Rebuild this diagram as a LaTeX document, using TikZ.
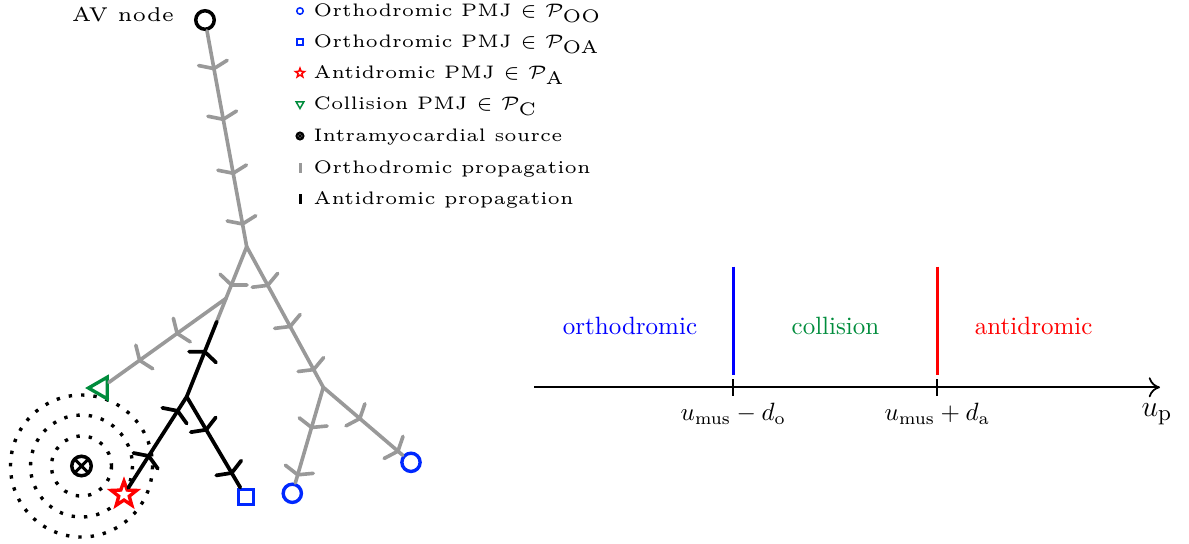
\documentclass[tikz,border=0pt]{standalone}
\usetikzlibrary{shapes.geometric,decorations.markings,arrows.meta}
\definecolor{pgray}{RGB}{153,153,153}
\definecolor{pgreen}{RGB}{0,140,60}
\definecolor{pblue}{RGB}{0,40,255}
\newcommand{\gprong}{\draw[pgray,line width=1.45pt] (-2.3pt,5.8pt) -- (0pt,0pt) -- (-2.3pt,-5.8pt);}
\newcommand{\bprong}{\draw[black,line width=1.5pt] (-2.3pt,5.8pt) -- (0pt,0pt) -- (-2.3pt,-5.8pt);}
\tikzset{
  gl/.style={draw=pgray,line width=1.45pt,line cap=round},
  bl/.style={draw=black,line width=1.5pt,line cap=round},
  gt/.style={postaction={decorate,decoration={markings,mark=at position #1 with {\gprong}}}},
  bt/.style={postaction={decorate,decoration={markings,mark=at position #1 with {\bprong}}}},
  ring/.style={draw=black,line width=1.35pt,dash pattern=on 1.35pt off 3.6pt},
  avn/.style={circle,draw=black,line width=1.4pt,minimum size=7.4pt,inner sep=0pt,fill=white},
  oo/.style={circle,draw=pblue,line width=1.35pt,minimum size=7.3pt,inner sep=0pt,fill=white},
  oa/.style={rectangle,draw=pblue,line width=1.35pt,minimum size=6pt,inner sep=0pt,fill=white},
  anti/.style={star,star points=5,star point ratio=2.4,draw=red,line width=1.35pt,minimum size=10.6pt,inner sep=0pt,fill=white},
  coll/.style={regular polygon,regular polygon sides=3,shape border rotate=90,draw=pgreen,line width=1.35pt,minimum size=10pt,inner sep=0pt},
  src/.style={circle,draw=black,line width=1.4pt,minimum size=7.8pt,inner sep=0pt,fill=white,
    path picture={\draw[line width=1.2pt] (path picture bounding box.north west) -- (path picture bounding box.south east)
      (path picture bounding box.south west) -- (path picture bounding box.north east);}},
  soo/.style={circle,draw=pblue,line width=0.6pt,minimum size=2.6pt,inner sep=0pt},
  soa/.style={rectangle,draw=pblue,line width=0.6pt,minimum size=2.4pt,inner sep=0pt},
  santi/.style={star,star points=5,star point ratio=2.4,draw=red,line width=0.6pt,minimum size=3.8pt,inner sep=0pt},
  scoll/.style={regular polygon,regular polygon sides=3,shape border rotate=180,draw=pgreen,line width=0.6pt,minimum size=3.6pt,inner sep=0pt},
  ssrc/.style={circle,draw=black,line width=0.8pt,minimum size=2.8pt,inner sep=0pt,
    path picture={\draw[line width=0.6pt] (path picture bounding box.north west) -- (path picture bounding box.south east)
      (path picture bounding box.south west) -- (path picture bounding box.north east);}},
  sbar/.style={rectangle,fill=#1,minimum width=1.2pt,minimum height=4pt,inner sep=0pt},
  lgt/.style={anchor=base west,inner sep=0pt,font=\fontsize{5}{6}\selectfont,scale=1.45},
  rlab/.style={anchor=base,inner sep=0pt},
  axis/.style={draw=black,line width=0.7pt},
}
\begin{document}
\begin{tikzpicture}[x=0.4pt,y=-0.4pt]
\useasboundingbox (0,0) rectangle (1189,543);

% dotted wavefronts
\foreach \r in {30,51,71} \draw[ring] (81.5,466) circle[radius=\r];

% tree nodes
\node[avn] (av) at (205,20) {};
\node[anchor=base east,inner sep=0pt,font=\fontsize{5}{6}\selectfont,scale=1.6] (avl) at (175,21) {AV node};
\node[src] (src) at (81.5,466) {};
\node[oo] (c1) at (292.3,493.3) {};
\node[oo] (c2) at (411,462.3) {};
\node[oa] (sq) at (245.7,496.7) {};
\node[anti] (st) at (124,494.5) {};
\node[coll] (tri) at (101,388) {};
\coordinate (apex) at (246.7,246.7);
\coordinate (j1) at (226.4,298.1);
\coordinate (m) at (216.7,321.7);
\coordinate (j2) at (186.7,396.7);
\coordinate (r1) at (323.3,387.3);

% orthodromic (gray) branches
\draw[gl,gt=0.175,gt=0.41,gt=0.66,gt=0.895] (av) -- (apex);
\draw[gl,gt=0.51] (apex) -- (m);
\draw[gl,gt=0.42,gt=0.74] (j1) -- (tri);
\draw[gl,gt=0.275,gt=0.568,gt=0.875] (apex) -- (r1);
\draw[gl,gt=0.42,gt=0.915] (r1) -- (c1);
\draw[gl,gt=0.46,gt=0.94] (r1) -- (c2);
% antidromic (black) branches
\draw[bl,bt=0.6] (j2) -- (m);
\draw[bl,bt=0.35,bt=0.845] (st) -- (j2);
\draw[bl,bt=0.364,bt=0.84] (j2) -- (sq);

% legend
\node[soo] (m1) at (300,11) {};
\node[lgt] (l1) at (313,16.7) {Orthodromic PMJ $\in\mathcal{P}_{\mathrm{OO}}$};
\node[soa] (m2) at (300,42) {};
\node[lgt] (l2) at (313,47.7) {Orthodromic PMJ $\in\mathcal{P}_{\mathrm{OA}}$};
\node[santi] (m3) at (300,73) {};
\node[lgt] (l3) at (313,78.7) {Antidromic PMJ $\in\mathcal{P}_{\mathrm{A}}$};
\node[scoll] (m4) at (300,104) {};
\node[lgt] (l4) at (313,109.7) {Collision PMJ $\in\mathcal{P}_{\mathrm{C}}$};
\node[ssrc] (m5) at (300,136) {};
\node[lgt] (l5) at (313,141.7) {Intramyocardial source};
\node[sbar=pgray] (m6) at (300,168) {};
\node[lgt] (l6) at (313,173.7) {Orthodromic propagation};
\node[sbar=black] (m7) at (300,199) {};
\node[lgt] (l7) at (313,204.7) {Antidromic propagation};

% right panel
\coordinate (ax0) at (534,387.3);
\coordinate (ax1) at (1160,387.3);
\coordinate (t1a) at (733.3,379);
\coordinate (t1b) at (733.3,396);
\coordinate (t2a) at (937.3,379);
\coordinate (t2b) at (937.3,396);
\coordinate (b1a) at (733.3,266.7);
\coordinate (b1b) at (733.3,375);
\coordinate (r1a) at (937.3,266.7);
\coordinate (r1b) at (937.3,375);
\draw[axis,-{To[length=4.5pt,width=8pt]}] (ax0) -- (ax1);
\draw[axis] (t1a) -- (t1b);
\draw[axis] (t2a) -- (t2b);
\draw[blue,line width=1.1pt] (b1a) -- (b1b);
\draw[red,line width=1.1pt] (r1a) -- (r1b);
\node[rlab,text=blue] (orth) at (630,334) {orthodromic};
\node[rlab,text=pgreen] (coll) at (835.5,334) {collision};
\node[rlab,text=red] (anti) at (1033.7,334) {antidromic};
\node[rlab] (lo) at (733.3,420.7) {$u_{\mathrm{mus}}-d_{\mathrm{o}}$};
\node[rlab] (la) at (937.3,420.7) {$u_{\mathrm{mus}}+d_{\mathrm{a}}$};
\node[anchor=base west,inner sep=0pt,font=\fontsize{13}{15}\selectfont] (lp) at (1141,416) {$u_{\mathrm{p}}$};
\end{tikzpicture}
\end{document}
